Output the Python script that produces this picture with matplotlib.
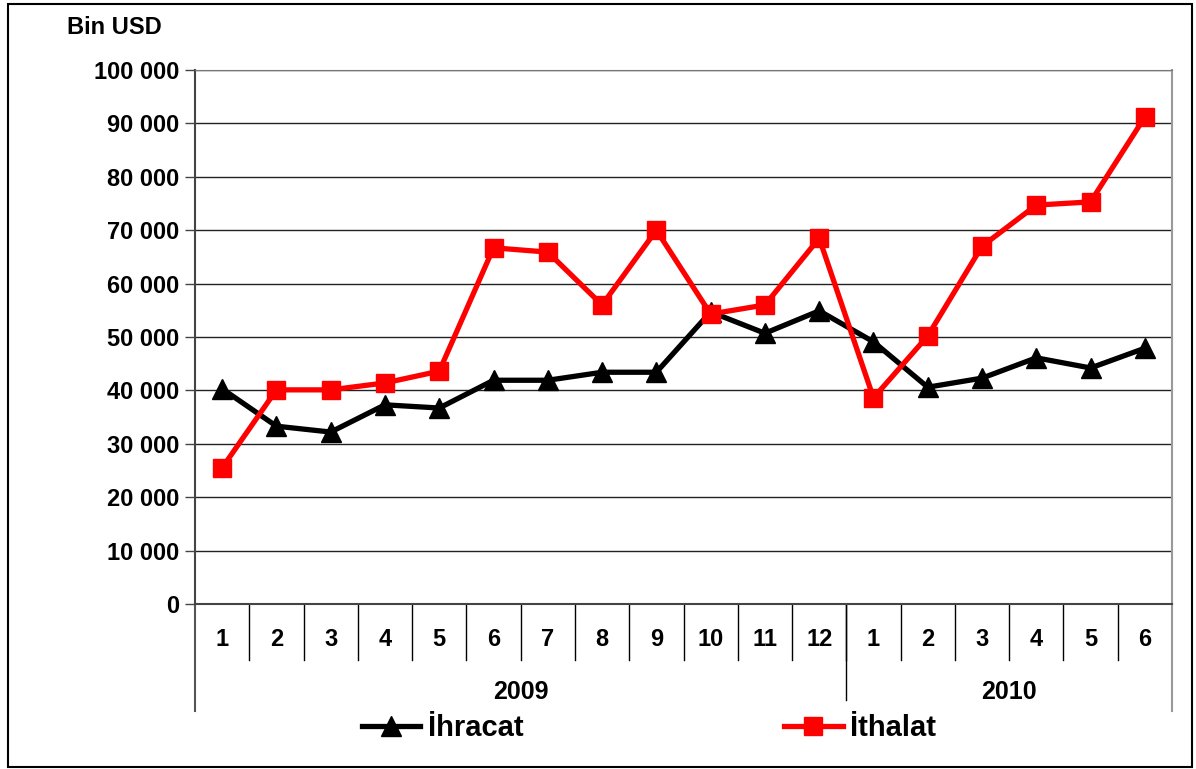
import numpy as np
import matplotlib
matplotlib.use("Agg")
import matplotlib.pyplot as plt
import matplotlib.transforms as mtransforms
from matplotlib.patches import Rectangle

plt.rcParams['font.family'] = ['Liberation Sans', 'DejaVu Sans']
plt.rcParams['font.weight'] = 'bold'

# --- données (bin USD) ---
aylar = ["1", "2", "3", "4", "5", "6", "7", "8", "9", "10", "11", "12",
         "1", "2", "3", "4", "5", "6"]
yillar = ["2009", "2010"]
yil_ay_sayisi = [12, 6]
ihracat = [40300, 33300, 32200, 37300, 36700, 41900, 41900, 43400, 43400,
           54700, 50700, 54900, 49100, 40600, 42300, 46100, 44200, 47900]
ithalat = [25500, 40100, 40100, 41400, 43600, 66700, 65900, 56000, 70000,
           54300, 56000, 68500, 38600, 50200, 67000, 74700, 75300, 91200]

fig = plt.figure(figsize=(11.96, 7.69), dpi=100)
ax = fig.add_axes([195/1196, 1-604/769, (1172-195)/1196, (604-70)/769])

x = np.arange(len(aylar))
l1, = ax.plot(x, ihracat, color='black', lw=3.8, marker='^', ms=14,
              label='İhracat', zorder=3)
l2, = ax.plot(x, ithalat, color='#ff0000', lw=3.8, marker='s', ms=13,
              label='İthalat', zorder=4)

ax.set_xlim(-0.5, len(aylar) - 0.5)
ax.set_ylim(0, 100000)
ax.set_yticks(np.arange(0, 100001, 10000))
ax.set_yticklabels([f"{v:,}".replace(",", " ") for v in range(0, 100001, 10000)],
                   fontsize=17, fontweight='bold')
ax.yaxis.grid(True, color='#222222', lw=1)
ax.set_axisbelow(True)
ax.tick_params(axis='y', direction='out', length=7, width=1, color='#444444', pad=4)
ax.tick_params(axis='y', right=False)
ax.set_xticks([])
for s in ['left', 'bottom']:
    ax.spines[s].set_color('#444444')
    ax.spines[s].set_linewidth(1.5)
ax.spines['top'].set_color('#777777')
ax.spines['right'].set_color('#999999')
ax.spines['right'].set_linewidth(1.5)

# --- axe x à deux niveaux ---
tr = mtransforms.blended_transform_factory(ax.transData, ax.transAxes)
y_ay = -56/534
y_yil = -107/534
for i in range(1, len(aylar)):
    ax.plot([i - 0.5, i - 0.5], [0, y_ay], color='black', lw=1,
            transform=tr, clip_on=False)
for i, a in enumerate(aylar):
    ax.text(i, -36/534, a, transform=tr, ha='center', va='center',
            fontsize=17, fontweight='bold')
bas = 0
for k, (yil, n) in enumerate(zip(yillar, yil_ay_sayisi)):
    ax.text(bas + (n - 1) / 2, -88/534, yil, transform=tr, ha='center',
            va='center', fontsize=18, fontweight='bold')
    if k > 0:
        ax.plot([bas - 0.5, bas - 0.5], [0, -96/534], color='black', lw=1,
                transform=tr, clip_on=False)
    bas += n
for xe, c in [(-0.5, '#555555'), (len(aylar) - 0.5, '#999999')]:
    ax.plot([xe, xe], [0, y_yil], color=c, lw=1.5, transform=tr, clip_on=False)

fig.text(67/1196, 1-27/769, "Bin USD", fontsize=17, fontweight='bold',
         ha='left', va='center')

fig.legend(handles=[l1, l2], loc='center left',
           bbox_to_anchor=(362/1196, 1-728/769), ncol=2, frameon=False,
           handlelength=2.0, handletextpad=0.25,
           columnspacing=8.95, borderpad=0, borderaxespad=0,
           prop={'size': 21, 'weight': 'bold'})

fig.patches.append(Rectangle((8/1196, 2/769), 1184/1196, 763/769,
                             transform=fig.transFigure, fill=False,
                             edgecolor='black', lw=1.5))

fig.savefig("out.png", dpi=100)
